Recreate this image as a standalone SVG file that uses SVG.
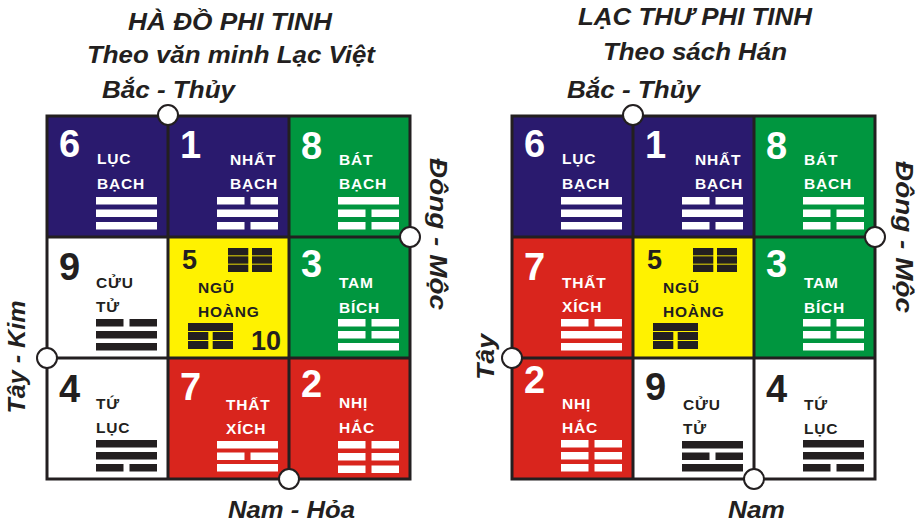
<svg xmlns="http://www.w3.org/2000/svg" width="922" height="527" viewBox="0 0 922 527">
<style>
text{font-family:"Liberation Sans",Arial,sans-serif;font-weight:bold}
.t{font-style:italic;fill:#231f20}
.ti{font-size:24px}
.st{font-size:23px}
.num{font-size:38px}
.lb{font-size:15.5px;letter-spacing:0.8px}
.sm{font-size:27px}
.w{fill:#fff}
.k{fill:#231f20}
.navy{fill:#2a1a6e}
.green{fill:#00963f}
.red{fill:#d9251d}
.yel{fill:#fff200}
.white{fill:#fff}
.grid{fill:none;stroke:#231f20;stroke-width:3}
.dot{fill:#fff;stroke:#231f20;stroke-width:2}
</style>
<defs>
<rect id="s" width="61" height="7.5"/>
<g id="b"><rect width="27.5" height="7.5"/><rect x="33.5" width="27.5" height="7.5"/></g>
<g id="icon-top">
<rect x="60" y="11" width="20.3" height="7.4"/><rect x="84" y="11" width="20" height="7.4"/>
<rect x="60" y="19.3" width="20.3" height="7.4"/><rect x="84" y="19.3" width="20" height="7.4"/>
<rect x="60" y="27.6" width="20.3" height="7.4"/><rect x="84" y="27.6" width="20" height="7.4"/>
</g>
<g id="icon-bot">
<rect x="20" y="86" width="45" height="8"/>
<rect x="20" y="95" width="20.3" height="8"/><rect x="44.7" y="95" width="20.3" height="8"/>
<rect x="20" y="104" width="20.3" height="8"/><rect x="44.7" y="104" width="20.3" height="8"/>
</g>
</defs>

<!-- Titles -->
<g id="titles">
<text class="t ti" x="128" y="30" textLength="204" lengthAdjust="spacingAndGlyphs">HÀ ĐỒ PHI TINH</text>
<text class="t st" x="87" y="63" textLength="288" lengthAdjust="spacingAndGlyphs">Theo văn minh Lạc Việt</text>
<text class="t st" x="102" y="98" textLength="133" lengthAdjust="spacingAndGlyphs">Bắc - Thủy</text>
<text class="t ti" x="578" y="25" textLength="234" lengthAdjust="spacingAndGlyphs">LẠC THƯ PHI TINH</text>
<text class="t st" x="603" y="60" textLength="184" lengthAdjust="spacingAndGlyphs">Theo sách Hán</text>
<text class="t st" x="567" y="98" textLength="133" lengthAdjust="spacingAndGlyphs">Bắc - Thủy</text>
<text class="t st" x="228" y="518" textLength="127" lengthAdjust="spacingAndGlyphs">Nam - Hỏa</text>
<text class="t st" x="728" y="518" textLength="57" lengthAdjust="spacingAndGlyphs">Nam</text>
<text class="t st" transform="translate(25,357) rotate(-90)" x="-56.5" y="0" textLength="113" lengthAdjust="spacingAndGlyphs">Tây - Kim</text>
<text class="t st" transform="translate(494,357) rotate(-90)" x="-23" y="0" textLength="46" lengthAdjust="spacingAndGlyphs">Tây</text>
<text class="t st" transform="translate(430,234) rotate(90)" x="-76" y="0" textLength="152" lengthAdjust="spacingAndGlyphs">Đông - Mộc</text>
<text class="t st" transform="translate(896,237) rotate(90)" x="-76" y="0" textLength="152" lengthAdjust="spacingAndGlyphs">Đông - Mộc</text>
</g>

<!-- LEFT GRID -->
<g id="L-6" transform="translate(47,116)">
<rect class="navy" width="121" height="121"/>
<text class="num w" x="12" y="41">6</text>
<text class="lb w" x="50" y="48">LỤC</text>
<text class="lb w" x="50" y="73">BẠCH</text>
<g class="w"><use href="#s" x="49" y="81"/><use href="#s" x="49" y="93.5"/><use href="#s" x="49" y="106"/></g>
</g>
<g id="L-1" transform="translate(168,116)">
<rect class="navy" width="121" height="121"/>
<text class="num w" x="12" y="42">1</text>
<text class="lb w" x="62" y="49">NHẤT</text>
<text class="lb w" x="62" y="73">BẠCH</text>
<g class="w"><use href="#b" x="49" y="81"/><use href="#s" x="49" y="93.5"/><use href="#b" x="49" y="106"/></g>
</g>
<g id="L-8" transform="translate(289,116)">
<rect class="green" width="121" height="121"/>
<text class="num w" x="12" y="43">8</text>
<text class="lb w" x="50" y="49">BÁT</text>
<text class="lb w" x="50" y="73">BẠCH</text>
<g class="w"><use href="#s" x="49" y="81"/><use href="#b" x="49" y="93.5"/><use href="#b" x="49" y="106"/></g>
</g>
<g id="L-9" transform="translate(47,237)">
<rect class="white" width="121" height="121"/>
<text class="num k" x="12" y="43" font-size="41">9</text>
<text class="lb k" x="49" y="51">CỬU</text>
<text class="lb k" x="49" y="75">TỬ</text>
<g class="k"><use href="#b" x="49" y="82"/><use href="#s" x="49" y="94"/><use href="#s" x="49" y="106"/></g>
</g>
<g id="L-5" transform="translate(168,237)">
<rect class="yel" width="121" height="121"/>
<text class="sm k" x="14" y="32">5</text>
<use href="#icon-top" class="k"/>
<text class="lb k" x="30" y="56">NGŨ</text>
<text class="lb k" x="30" y="80">HOÀNG</text>
<use href="#icon-bot" class="k"/>
<text class="sm k" x="83" y="113">10</text>
</g>
<g id="L-3" transform="translate(289,237)">
<rect class="green" width="121" height="121"/>
<text class="num w" x="12" y="40">3</text>
<text class="lb w" x="50" y="51">TAM</text>
<text class="lb w" x="50" y="76">BÍCH</text>
<g class="w"><use href="#b" x="49" y="82"/><use href="#b" x="49" y="94"/><use href="#s" x="49" y="106"/></g>
</g>
<g id="L-4" transform="translate(47,358)">
<rect class="white" width="121" height="121"/>
<text class="num k" x="12" y="44">4</text>
<text class="lb k" x="49" y="51">TỨ</text>
<text class="lb k" x="49" y="75">LỤC</text>
<g class="k"><use href="#s" x="49" y="82"/><use href="#s" x="49" y="94"/><use href="#b" x="49" y="106"/></g>
</g>
<g id="L-7" transform="translate(168,358)">
<rect class="red" width="121" height="121"/>
<text class="num w" x="12" y="42">7</text>
<text class="lb w" x="58" y="52">THẤT</text>
<text class="lb w" x="58" y="76">XÍCH</text>
<g class="w"><use href="#s" x="49" y="83"/><use href="#b" x="49" y="94.5"/><use href="#s" x="49" y="106"/></g>
</g>
<g id="L-2" transform="translate(289,358)">
<rect class="red" width="121" height="121"/>
<text class="num w" x="12" y="39">2</text>
<text class="lb w" x="50" y="50">NHỊ</text>
<text class="lb w" x="50" y="75">HẮC</text>
<g class="w"><use href="#b" x="49" y="83"/><use href="#b" x="49" y="95"/><use href="#b" x="49" y="107.5"/></g>
</g>

<!-- RIGHT GRID -->
<g id="R-6" transform="translate(512,116)">
<rect class="navy" width="121" height="121"/>
<text class="num w" x="12" y="41">6</text>
<text class="lb w" x="50" y="48">LỤC</text>
<text class="lb w" x="50" y="73">BẠCH</text>
<g class="w"><use href="#s" x="49" y="81"/><use href="#s" x="49" y="93.5"/><use href="#s" x="49" y="106"/></g>
</g>
<g id="R-1" transform="translate(633,116)">
<rect class="navy" width="121" height="121"/>
<text class="num w" x="12" y="42">1</text>
<text class="lb w" x="62" y="49">NHẤT</text>
<text class="lb w" x="62" y="73">BẠCH</text>
<g class="w"><use href="#b" x="49" y="81"/><use href="#s" x="49" y="93.5"/><use href="#b" x="49" y="106"/></g>
</g>
<g id="R-8" transform="translate(754,116)">
<rect class="green" width="121" height="121"/>
<text class="num w" x="12" y="43">8</text>
<text class="lb w" x="50" y="49">BÁT</text>
<text class="lb w" x="50" y="73">BẠCH</text>
<g class="w"><use href="#s" x="49" y="81"/><use href="#b" x="49" y="93.5"/><use href="#b" x="49" y="106"/></g>
</g>
<g id="R-7" transform="translate(512,237)">
<rect class="red" width="121" height="121"/>
<text class="num w" x="12" y="43">7</text>
<text class="lb w" x="50" y="51">THẤT</text>
<text class="lb w" x="50" y="75">XÍCH</text>
<g class="w"><use href="#b" x="49" y="82"/><use href="#s" x="49" y="94"/><use href="#s" x="49" y="106"/></g>
</g>
<g id="R-5" transform="translate(633,237)">
<rect class="yel" width="121" height="121"/>
<text class="sm k" x="14" y="32">5</text>
<use href="#icon-top" class="k"/>
<text class="lb k" x="30" y="56">NGŨ</text>
<text class="lb k" x="30" y="80">HOÀNG</text>
<use href="#icon-bot" class="k"/>
</g>
<g id="R-3" transform="translate(754,237)">
<rect class="green" width="121" height="121"/>
<text class="num w" x="12" y="40">3</text>
<text class="lb w" x="50" y="51">TAM</text>
<text class="lb w" x="50" y="76">BÍCH</text>
<g class="w"><use href="#b" x="49" y="82"/><use href="#b" x="49" y="94"/><use href="#s" x="49" y="106"/></g>
</g>
<g id="R-2" transform="translate(512,358)">
<rect class="red" width="121" height="121"/>
<text class="num w" x="12" y="35">2</text>
<text class="lb w" x="50" y="51">NHỊ</text>
<text class="lb w" x="50" y="75">HẮC</text>
<g class="w"><use href="#b" x="49" y="82"/><use href="#b" x="49" y="94"/><use href="#b" x="49" y="106"/></g>
</g>
<g id="R-9" transform="translate(633,358)">
<rect class="white" width="121" height="121"/>
<text class="num k" x="12" y="42" font-size="41">9</text>
<text class="lb k" x="50" y="52">CỬU</text>
<text class="lb k" x="50" y="76">TỬ</text>
<g class="k"><use href="#s" x="49" y="83"/><use href="#b" x="49" y="94.5"/><use href="#s" x="49" y="106"/></g>
</g>
<g id="R-4" transform="translate(754,358)">
<rect class="white" width="121" height="121"/>
<text class="num k" x="12" y="44">4</text>
<text class="lb k" x="50" y="52">TỨ</text>
<text class="lb k" x="50" y="76">LỤC</text>
<g class="k"><use href="#s" x="49" y="82"/><use href="#s" x="49" y="94"/><use href="#b" x="49" y="106"/></g>
</g>

<!-- grid lines -->
<g id="connectors" class="grid">
<rect x="47" y="116" width="363" height="363"/>
<path d="M168 116V479M289 116V479M47 237H410M47 358H410"/>
<rect x="512" y="116" width="363" height="363"/>
<path d="M633 116V479M754 116V479M512 237H875M512 358H875"/>
</g>

<!-- direction points -->
<g id="points">
<circle class="dot" cx="168" cy="115" r="10"/>
<circle class="dot" cx="410" cy="237" r="10"/>
<circle class="dot" cx="47" cy="358" r="10"/>
<circle class="dot" cx="289" cy="479" r="10"/>
<circle class="dot" cx="633" cy="115" r="10"/>
<circle class="dot" cx="875" cy="237" r="10"/>
<circle class="dot" cx="512" cy="358" r="10"/>
<circle class="dot" cx="754" cy="479" r="10"/>
</g>
</svg>
